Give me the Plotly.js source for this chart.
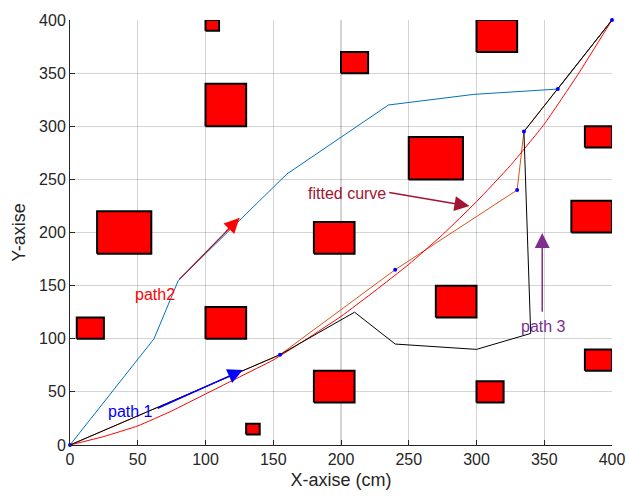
<!DOCTYPE html>
<html>
<head>
<meta charset="utf-8">
<script src="https://cdn.plot.ly/plotly-3.0.1.min.js"></script>
<style>html,body{margin:0;padding:0;background:#fff;}</style>
</head>
<body>
<div id="chart" style="width:629px;height:503px;"></div>
<script>
// Obstacles: [x0, y0, x1, y1]
const obstacles = [
  [100, 390, 110, 400],
  [100, 300, 130, 340],
  [200, 350, 220, 370],
  [300, 370, 330, 400],
  [250, 250, 290, 290],
  [380, 280, 400, 300],
  [370, 200, 400, 230],
  [20, 180, 60, 220],
  [180, 180, 210, 210],
  [5, 100, 25, 120],
  [100, 100, 130, 130],
  [270, 120, 300, 150],
  [180, 40, 210, 70],
  [300, 40, 320, 60],
  [380, 70, 400, 90],
  [130, 10, 140, 20]
];

// path 2 (blue)
const path2X = [0, 62, 80, 160, 235, 298, 360, 400];
const path2Y = [0, 100, 155, 255, 320, 330, 335, 400];

// path 1 (orange)
const path1X = [0, 155, 240, 330, 335, 360, 400];
const path1Y = [0, 85, 165, 240, 295, 335, 400];

// path 3 (black)
const path3X = [0, 155, 210, 240, 300, 340, 335, 360, 400];
const path3Y = [0, 85, 125, 95, 90, 105, 295, 335, 400];

// fitted curve (red)
const fitX = [0, 25, 50, 75, 100, 125, 150, 175, 200, 225, 250, 275, 300, 325, 350, 375, 400];
const fitY = [0, 8, 18, 32, 48, 64, 80, 100, 121, 145, 170, 198, 229, 263, 302, 349, 400];

// waypoint markers
const nodeX = [0, 155, 240, 330, 335, 360, 400];
const nodeY = [0, 85, 165, 240, 295, 335, 400];

const traces = [];
obstacles.forEach(o => {
  traces.push({
    x: [o[0], o[2], o[2], o[0], o[0]],
    y: [o[1], o[1], o[3], o[3], o[1]],
    mode: 'lines', fill: 'toself', fillcolor: '#FF0000',
    line: {color: '#000000', width: 2},
    hoverinfo: 'skip', showlegend: false
  });
});
traces.push({x: path2X, y: path2Y, mode: 'lines', line: {color: '#0072BD', width: 1}, showlegend: false});
traces.push({x: path1X, y: path1Y, mode: 'lines', line: {color: '#D95319', width: 1}, showlegend: false});
traces.push({x: fitX, y: fitY, mode: 'lines', line: {color: '#FF0000', width: 1, shape: 'spline', smoothing: 0.4}, showlegend: false});
traces.push({x: path3X, y: path3Y, mode: 'lines', line: {color: '#000000', width: 1}, showlegend: false});
traces.push({x: nodeX, y: nodeY, mode: 'markers', marker: {color: '#0000FF', size: 4}, showlegend: false, cliponaxis: false});

const font = {family: 'Liberation Sans, Arial, sans-serif', size: 16, color: '#262626'};
const AH = 2, AS = 2, AW = 1.5;

const annotations = [
  // path 1 arrow + text
  {x: 127.5, y: 70.6, ax: 63.6, ay: 33.9, xref: 'x', yref: 'y', axref: 'x', ayref: 'y',
   text: '', showarrow: true, arrowhead: AH, arrowsize: AS, arrowwidth: AW, arrowcolor: '#0000FF'},
  {x: 45, y: 31.4, xref: 'x', yref: 'y', text: 'path 1', showarrow: false,
   font: {family: font.family, size: 16, color: '#0000FF'}},
  // path 2 arrow + text
  {x: 125, y: 213.6, ax: 79.6, ay: 154.4, xref: 'x', yref: 'y', axref: 'x', ayref: 'y',
   text: '', showarrow: true, arrowhead: 0, arrowwidth: 1.2, arrowcolor: '#A2142F'},
  {x: 125, y: 213.6, ax: 114, ay: 199.3, xref: 'x', yref: 'y', axref: 'x', ayref: 'y',
   text: '', showarrow: true, arrowhead: AH, arrowsize: AS, arrowwidth: AW, arrowcolor: '#FF0000'},
  {x: 62.6, y: 141.2, xref: 'x', yref: 'y', text: 'path2', showarrow: false,
   font: {family: font.family, size: 16, color: '#FF0000'}},
  // fitted curve
  {x: 294.8, y: 224.9, ax: 234.5, ay: 237.8, xref: 'x', yref: 'y', axref: 'x', ayref: 'y',
   text: '', showarrow: true, arrowhead: AH, arrowsize: AS, arrowwidth: AW, arrowcolor: '#A2142F'},
  {x: 204.6, y: 236.9, xref: 'x', yref: 'y', text: 'fitted curve', showarrow: false,
   font: {family: font.family, size: 16, color: '#A2142F'}},
  // path 3
  {x: 348.5, y: 199.5, ax: 348.5, ay: 124, xref: 'x', yref: 'y', axref: 'x', ayref: 'y',
   text: '', showarrow: true, arrowhead: AH, arrowsize: AS, arrowwidth: AW, arrowcolor: '#7E2F8E'},
  {x: 349.8, y: 112, xref: 'x', yref: 'y', text: 'path 3', showarrow: false,
   font: {family: font.family, size: 16, color: '#7E2F8E'}},
  // S and T
  {x: -11.4, y: 7.8, xref: 'x', yref: 'y', text: 'S', showarrow: false,
   font: {family: font.family, size: 16, color: '#000000'}},
  {x: 410.5, y: 406, xref: 'x', yref: 'y', text: 'T', showarrow: false,
   font: {family: font.family, size: 16, color: '#000000'}}
];

const axisCommon = {
  range: [0, 400], dtick: 50, tick0: 0,
  showgrid: true, gridcolor: 'rgba(0,0,0,0.17)', gridwidth: 1.2,
  zeroline: false, showline: true, linecolor: '#262626', linewidth: 1,
  ticks: 'inside', ticklen: 5, tickcolor: '#262626', tickwidth: 1,
  tickfont: font, mirror: false, fixedrange: true
};

const layout = {
  width: 629, height: 503,
  margin: {l: 70, r: 17, t: 20, b: 58},
  paper_bgcolor: '#ffffff', plot_bgcolor: '#ffffff',
  showlegend: false,
  xaxis: Object.assign({}, axisCommon, {
    title: {text: 'X-axise (cm)', font: {family: font.family, size: 18, color: '#262626'}, standoff: 6}
  }),
  yaxis: Object.assign({}, axisCommon, {
    title: {text: 'Y-axise', font: {family: font.family, size: 18, color: '#262626'}, standoff: 8}
  }),
  annotations: annotations
};

Plotly.newPlot('chart', traces, layout, {staticPlot: true, displayModeBar: false});
</script>
</body>
</html>
